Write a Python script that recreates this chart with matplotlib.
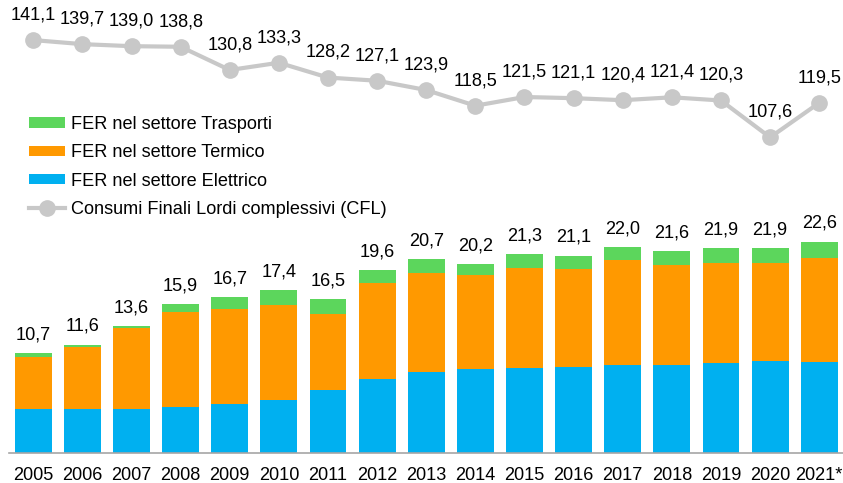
import matplotlib.pyplot as plt
import numpy as np

plt.rcParams['font.family'] = ['Liberation Sans', 'DejaVu Sans']

anni = ['2005', '2006', '2007', '2008', '2009', '2010', '2011', '2012', '2013',
        '2014', '2015', '2016', '2017', '2018', '2019', '2020', '2021*']
elettrico = [4.7, 4.7, 4.7, 4.9, 5.3, 5.7, 6.8, 7.9, 8.7, 9.0, 9.1, 9.2, 9.4, 9.4, 9.6, 9.9, 9.8]
termico = [5.6, 6.7, 8.7, 10.2, 10.1, 10.1, 8.1, 10.3, 10.6, 10.0, 10.7, 10.5, 11.2, 10.7, 10.7, 10.4, 11.0]
trasporti = [0.4, 0.2, 0.2, 0.8, 1.3, 1.6, 1.6, 1.4, 1.4, 1.2, 1.5, 1.4, 1.4, 1.5, 1.6, 1.6, 1.8]
cfl = [141.1, 139.7, 139.0, 138.8, 130.8, 133.3, 128.2, 127.1, 123.9, 118.5,
       121.5, 121.1, 120.4, 121.4, 120.3, 107.6, 119.5]

c_el = '#00B0F0'
c_te = '#FF9900'
c_tr = '#5CD65C'
c_cfl = '#C8C8C8'
fs = 13.1

fig = plt.figure(figsize=(8.43, 4.83), dpi=100)
ax = fig.add_axes([8.7 / 843, 0.0615, 835.1 / 843, 0.9385])
x = np.arange(len(anni))
el = np.array(elettrico)
te = np.array(termico)
tr = np.array(trasporti)

b1 = ax.bar(x, el, 0.75, color=c_el, label='FER nel settore Elettrico')
b2 = ax.bar(x, te, 0.75, bottom=el, color=c_te, label='FER nel settore Termico')
b3 = ax.bar(x, tr, 0.75, bottom=el + te, color=c_tr, label='FER nel settore Trasporti')
tot = el + te + tr
for i in range(len(x)):
    ax.annotate(f'{tot[i]:.1f}'.replace('.', ','), (x[i], tot[i]), xytext=(0, 7),
                textcoords='offset points', ha='center', va='bottom', fontsize=fs)

ax.set_xlim(-0.5, len(anni) - 0.5)
ax.set_ylim(0, 48.4)
ax.set_xticks(x)
ax.set_xticklabels(anni, fontsize=fs)
ax.tick_params(axis='x', length=0, pad=10)
ax.set_yticks([])
for s in ['top', 'right', 'left']:
    ax.spines[s].set_visible(False)
ax.spines['bottom'].set_color('#A6A6A6')
ax.spines['bottom'].set_linewidth(1.2)

ax2 = ax.twinx()
l1, = ax2.plot(x, cfl, color=c_cfl, lw=3, marker='o', markersize=11,
               label='Consumi Finali Lordi complessivi (CFL)')
for i in range(len(x)):
    ax2.annotate(f'{cfl[i]:.1f}'.replace('.', ','), (x[i], cfl[i]), xytext=(0, 12),
                 textcoords='offset points', ha='center', va='bottom', fontsize=fs)
ax2.set_ylim(-1.17, 154.9)
ax2.set_yticks([])
for s in ['top', 'right', 'left', 'bottom']:
    ax2.spines[s].set_visible(False)

fig.legend([b3, b2, b1, l1],
           ['FER nel settore Trasporti', 'FER nel settore Termico',
            'FER nel settore Elettrico', 'Consumi Finali Lordi complessivi (CFL)'],
           loc='upper left', bbox_to_anchor=(29 / 843, 1 - 116 / 483), frameon=False,
           fontsize=fs, handlelength=2.0, handleheight=0.5, handletextpad=0.3,
           labelspacing=0.62, borderpad=0, borderaxespad=0)

fig.savefig('out.png', dpi=100)
